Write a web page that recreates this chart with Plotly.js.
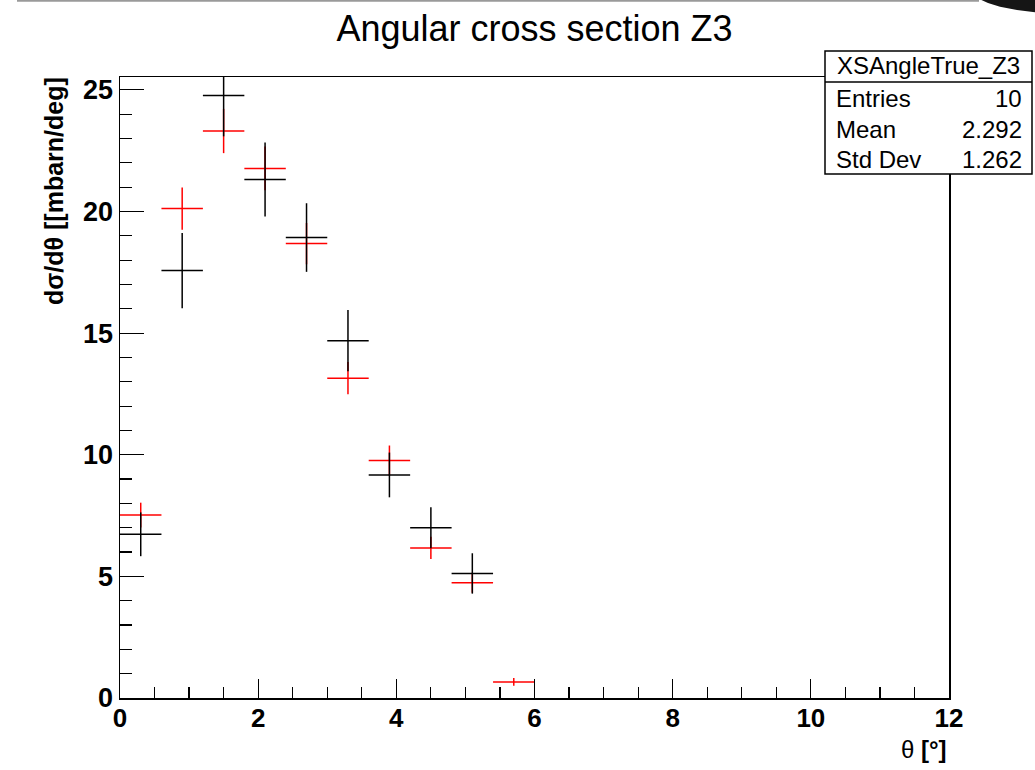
<!DOCTYPE html>
<html>
<head>
<meta charset="utf-8">
<script src="https://cdn.plot.ly/plotly-3.0.1.min.js"></script>
<style>html,body{margin:0;padding:0;background:#fff;}#plot{width:1035px;height:770px;}</style>
</head>
<body>
<div id="plot"></div>
<script>
// bin centres (degrees), bin half-width 0.3
const theta = [0.3, 0.9, 1.5, 2.1, 2.7, 3.3, 3.9, 4.5, 5.1, 5.7];
const halfWidth = 0.3;
// black series (XSAngleTrue_Z3)
const trueTheta = [0.3, 0.9, 1.5, 2.1, 2.7, 3.3, 3.9, 4.5, 5.1];
const trueVal = [6.73, 17.57, 24.77, 21.32, 18.93, 14.69, 9.17, 7.00, 5.12];
const trueErr = [0.90, 1.55, 1.68, 1.52, 1.41, 1.26, 0.92, 0.84, 0.83];
// red series
const recoVal = [7.52, 20.12, 23.31, 21.77, 18.68, 13.15, 9.76, 6.17, 4.74, 0.66];
const recoErr = [0.51, 0.87, 0.91, 0.90, 0.85, 0.66, 0.62, 0.46, 0.41, 0.16];
// stats box
const statsTitle = "XSAngleTrue_Z3";
const statsLabels = ["Entries", "Mean", "Std Dev"];
const statsValues = ["10", "2.292", "1.262"];

const F = "Liberation Sans, Arial, Helvetica, sans-serif";

function errTrace(x, y, e, color) {
  return {
    type: 'scatter', mode: 'markers', x: x, y: y,
    marker: {size: 0.1, color: color, opacity: 0},
    error_y: {type: 'data', array: e, visible: true, width: 0, thickness: 1.5, color: color},
    error_x: {type: 'constant', value: halfWidth, visible: true, width: 0, thickness: 1.5, color: color},
    hoverinfo: 'x+y', showlegend: false
  };
}

const data = [
  errTrace(theta, recoVal, recoErr, '#ff0000'),
  errTrace(trueTheta, trueVal, trueErr, '#000000')
];

// paper coordinate helpers (plot area: x 120..949 px, y 77..698 px)
const px = v => (v - 120) / 829;
const py = v => (698 - v) / 621;

const annotations = [
  {xref: 'paper', yref: 'paper', x: px(54), y: py(191), xanchor: 'center', yanchor: 'middle',
   textangle: -90, showarrow: false, text: '<b>dσ/dθ [[mbarn/deg]</b>',
   font: {family: F, size: 25, color: '#000'}},
  {xref: 'paper', yref: 'paper', x: 1, y: py(749), xanchor: 'right', yanchor: 'middle',
   showarrow: false, text: 'θ <b>[°]</b>', font: {family: F, size: 24, color: '#000'}},
  {xref: 'paper', yref: 'paper', x: px(928), y: py(66), xanchor: 'center', yanchor: 'middle',
   showarrow: false, text: statsTitle, font: {family: F, size: 24, color: '#000'}}
];
const rowY = [98, 129, 159];
statsLabels.forEach((lab, i) => {
  annotations.push({xref: 'paper', yref: 'paper', x: px(834), y: py(rowY[i]), xanchor: 'left', yanchor: 'middle',
    showarrow: false, text: lab, font: {family: F, size: 24, color: '#000'}});
  annotations.push({xref: 'paper', yref: 'paper', x: px(1024), y: py(rowY[i]), xanchor: 'right', yanchor: 'middle',
    showarrow: false, text: statsValues[i], font: {family: F, size: 24, color: '#000'}});
});

const shapes = [
  // stats box
  {type: 'rect', xref: 'paper', yref: 'paper', x0: px(825), x1: px(1032), y0: py(174), y1: py(51),
   fillcolor: '#fff', line: {color: '#000', width: 1.5}, layer: 'above'},
  {type: 'line', xref: 'paper', yref: 'paper', x0: px(825), x1: px(1032), y0: py(82), y1: py(82),
   line: {color: '#000', width: 1.5}, layer: 'above'},
  // window edge artefacts at the top
  {type: 'line', xref: 'paper', yref: 'paper', x0: px(17), x1: px(979), y0: py(0.8), y1: py(0.8),
   line: {color: '#9a9a9a', width: 2}, layer: 'above'},
  {type: 'path', xref: 'paper', yref: 'paper', layer: 'above',
   path: `M ${px(977)} ${py(-2)} L ${px(1040)} ${py(-2)} L ${px(1040)} ${py(12.8)} L ${px(1035)} ${py(12.3)} L ${px(1017)} ${py(10)} L ${px(1000)} ${py(6.7)} L ${px(988)} ${py(3)} Z`,
   fillcolor: '#151515', line: {width: 0}}
];

const layout = {
  width: 1035, height: 770,
  margin: {l: 120, r: 86, t: 77, b: 72, pad: 0},
  paper_bgcolor: '#fff', plot_bgcolor: '#fff',
  showlegend: false,
  title: {text: 'Angular cross section Z3', font: {family: F, size: 36, color: '#000'},
          xref: 'paper', x: 0.5, xanchor: 'center', yref: 'container', y: 1 - 28 / 770, yanchor: 'middle'},
  xaxis: {
    range: [0, 12], tickmode: 'linear', tick0: 0, dtick: 2,
    ticks: 'inside', ticklen: 19, tickwidth: 1.2, tickcolor: '#000',
    minor: {dtick: 0.5, ticks: 'inside', ticklen: 11, tickwidth: 1.2, tickcolor: '#000'},
    showline: true, linecolor: '#000', linewidth: 1.5, mirror: true,
    showgrid: false, zeroline: false, ticklabelstandoff: -4,
    tickfont: {family: F, size: 26, color: '#000', weight: 'bold'}
  },
  yaxis: {
    range: [0, 25.53], tickmode: 'linear', tick0: 0, dtick: 5,
    ticks: 'inside', ticklen: 24, tickwidth: 1.2, tickcolor: '#000',
    minor: {dtick: 1, ticks: 'inside', ticklen: 12, tickwidth: 1.2, tickcolor: '#000'},
    showline: true, linecolor: '#000', linewidth: 1.5, mirror: true,
    showgrid: false, zeroline: false,
    tickfont: {family: F, size: 27, color: '#000', weight: 'bold'}
  },
  annotations: annotations,
  shapes: shapes
};

Plotly.newPlot('plot', data, layout, {displayModeBar: false, staticPlot: true});
</script>
</body>
</html>
